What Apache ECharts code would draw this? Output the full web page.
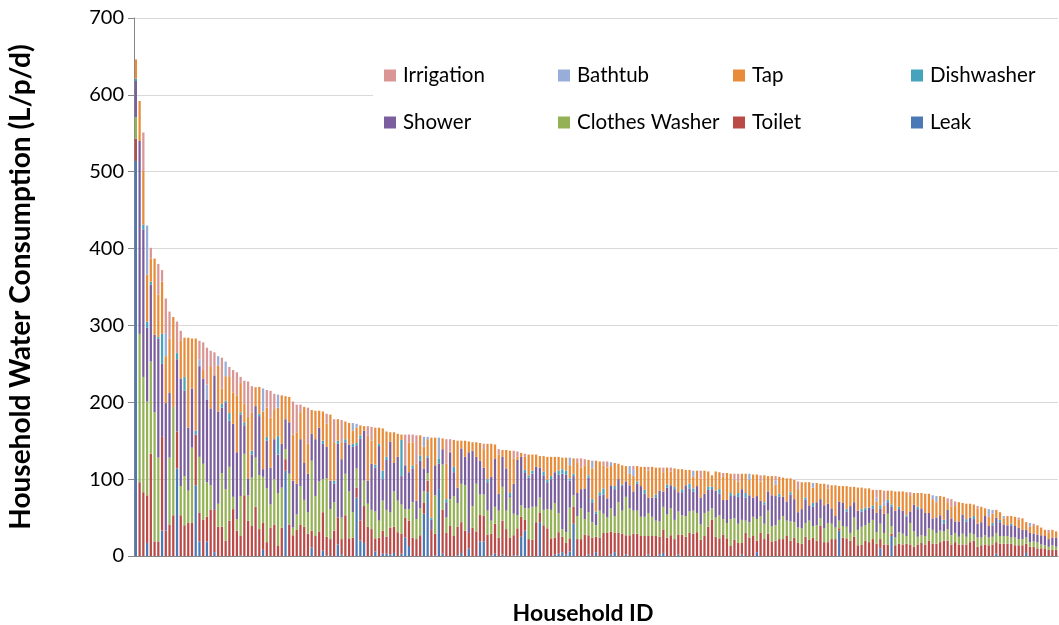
<!DOCTYPE html>
<html>
<head>
<meta charset="utf-8">
<title>Household Water Consumption</title>
<script src="https://cdn.jsdelivr.net/npm/echarts@6/dist/echarts.min.js"></script>
<style>
  html, body { margin: 0; padding: 0; background: #fff; }
  #chart { width: 1059px; height: 625px; }
</style>
</head>
<body>
<div id="chart"></div>
<script>
// end uses per household (L/p/d), households sorted by total use, highest first
const leak = [
  514,0,0,17,0,0,0,33,0,0, 0,114,0,0,0,0,92,19,0,19, 0,5,0,0,0,0,0,0,1,0,
  0,0,0,0,8,0,0,0,0,0, 111,0,0,0,0,0,0,11,0,0, 7,1,0,0,15,2,0,0,0,76,
  20,17,0,0,6,0,3,3,2,4, 0,3,24,13,0,0,0,55,83,0, 1,87,3,0,0,0,1,4,0,10,
  0,0,19,19,0,1,3,0,2,0, 0,1,1,25,33,0,0,0,44,0, 0,0,2,3,5,2,6,42,0,0,
  0,2,0,5,0,0,0,2,5,0, 0,2,0,0,0,0,0,2,0,0, 2,4,0,0,0,2,0,0,0,0,
  0,0,0,0,0,0,0,0,0,0, 0,0,2,0,0,0,5,0,0,0, 0,0,0,0,0,0,0,0,0,0,
  0,0,0,0,0,0,0,0,33,0, 0,0,0,0,0,0,0,0,0,10, 0,0,26,0,0,0,0,0,0,0,
  0,0,0,0,0,0,0,0,0,0, 0,0,0,0,0,0,0,0,0,0, 3,0,0,0,0,0,0,0,4,0,
  0,0,0,0,0,0,0
];
const toilet = [
  29,96,83,62,133,19,19,122,33,41, 53,48,53,40,43,43,66,37,47,32, 60,55,38,38,20,46,61,33,25,79,
  46,39,64,35,35,18,37,41,13,37, 15,41,27,34,41,38,29,22,26,32, 50,24,22,33,35,20,53,23,24,13,
  26,48,38,35,17,24,30,22,35,34, 31,26,26,33,24,22,27,14,15,34, 28,0,57,30,39,26,37,40,33,20,
  37,32,35,33,28,28,39,24,44,35, 24,26,35,26,14,22,21,44,12,40, 36,23,22,28,20,15,17,22,22,22,
  28,25,24,20,24,30,30,30,25,30, 29,25,27,29,29,26,26,24,26,26, 23,30,24,27,22,26,28,25,30,29,
  31,21,26,38,47,25,23,28,23,13, 21,17,15,30,24,26,15,30,22,29, 19,20,22,22,26,20,24,17,16,25,
  21,24,20,39,18,18,22,22,3,24, 23,20,25,14,15,20,18,22,16,12, 15,15,3,14,16,15,16,15,12,15,
  17,15,20,16,16,18,20,20,15,18, 15,15,15,18,20,12,14,15,14,15, 15,16,16,16,16,14,14,14,12,12,
  12,10,10,10,8,8,8
];
const clothesWasher = [
  28,193,150,122,120,168,109,0,0,87, 141,0,38,64,42,98,0,73,73,45, 32,0,30,70,67,70,16,15,52,54,
  33,63,64,70,60,70,30,59,69,52, 13,66,10,20,50,35,28,91,52,65, 43,76,39,37,0,28,54,61,33,25,
  0,33,30,25,35,22,39,35,20,46, 41,38,11,15,46,26,35,15,10,0, 50,0,59,20,35,52,31,50,59,0,
  28,62,26,28,31,17,22,35,44,24, 52,28,17,15,15,40,43,20,20,20, 25,37,45,25,10,14,40,15,30,40,
  20,30,20,15,35,25,20,30,22,40, 30,50,35,30,30,25,25,30,25,20, 20,30,30,35,25,30,25,27,28,30,
  25,20,30,20,15,25,30,20,20,35, 28,25,30,16,20,25,28,22,20,30, 20,20,25,30,20,25,20,20,20,18,
  25,15,20,10,18,25,20,15,10,15, 15,10,25,20,23,20,25,25,15,20, 15,40,10,10,15,14,10,28,20,10,
  10,11,16,18,14,15,12,15,12,12, 10,14,10,12,8,12,10,12,10,10, 12,10,10,10,8,10,8,8,8,6,
  7,8,5,4,4,6,4
];
const shower = [
  47,251,192,96,100,101,155,95,166,84, 0,94,140,111,82,77,0,118,111,107, 100,175,120,85,113,60,95,87,106,37,
  22,30,67,77,10,62,48,52,50,57, 39,67,61,40,61,48,50,35,74,70, 46,41,37,24,96,76,41,61,85,30,
  107,65,30,60,57,97,28,65,92,37, 57,37,57,48,44,24,62,30,20,13, 39,33,20,20,61,31,20,46,37,105,
  72,35,44,35,37,57,63,22,39,55, 2,39,72,63,46,40,43,52,39,45, 35,40,40,50,72,75,35,25,30,25,
  40,45,25,15,20,25,25,30,35,30, 32,20,30,25,35,40,30,20,25,30, 40,20,35,30,40,25,30,40,30,25,
  35,35,25,28,25,35,28,25,30,30, 30,35,40,30,35,25,30,20,25,25, 40,38,30,25,25,35,30,20,25,30,
  20,25,30,25,30,25,20,15,25,30, 20,35,20,25,20,20,20,15,25,20, 25,15,25,35,30,30,25,15,35,36,
  35,30,20,15,20,20,10,25,22,15, 20,25,20,20,20,18,20,25,15,15, 20,18,15,14,16,15,15,12,10,12,
  10,10,12,12,10,10,12
];
const dishwasher = [
  3,0,6,8,4,0,2,39,0,0, 0,8,0,18,0,0,5,0,0,0, 0,0,0,5,2,10,0,0,3,4,
  0,5,0,3,0,5,0,0,24,0, 0,0,0,0,0,0,0,0,0,0, 4,0,0,4,4,0,4,0,4,3,
  4,0,0,0,4,3,11,4,0,0, 0,47,0,0,4,0,7,0,2,3, 0,7,0,4,0,7,0,0,0,0,
  0,0,0,0,4,0,0,0,0,0, 4,0,0,0,4,3,4,0,0,5, 3,4,0,5,6,5,3,3,0,0,
  0,3,5,3,4,8,0,0,4,0, 2,0,0,0,3,0,5,0,0,4, 0,0,4,0,3,0,4,0,6,4,
  0,0,0,4,3,0,6,0,0,4, 0,5,0,6,0,0,0,0,3,0, 0,0,4,0,0,3,0,0,0,3,
  0,5,0,0,0,0,0,0,0,0, 3,0,0,0,3,3,0,4,0,4, 0,3,3,0,3,0,2,0,0,3,
  0,0,0,0,0,0,5,0,0,0, 0,0,3,0,4,0,0,0,0,3, 0,3,0,0,2,0,0,0,0,0,
  0,0,0,0,0,0,0
];
const tap = [
  25,52,70,61,30,99,55,68,61,71, 117,0,49,51,117,65,120,0,11,0, 55,0,60,20,32,47,41,74,38,24,
  80,50,24,35,75,38,65,39,37,63, 30,33,60,67,35,73,39,31,37,22, 38,30,86,50,28,22,23,28,17,20,
  13,6,59,30,48,21,55,33,12,40, 30,7,0,39,30,48,26,28,22,104, 36,0,14,46,1,35,61,10,21,14,
  11,19,23,24,46,43,18,51,9,24, 55,33,4,5,17,27,21,16,15,20, 30,25,20,18,15,17,17,20,40,28,
  30,20,40,66,40,30,40,25,30,20, 25,20,15,20,20,25,30,35,40,35, 30,25,22,18,24,30,26,20,18,15,
  20,25,30,20,15,25,22,30,35,25, 20,15,20,25,20,30,28,25,35,20, 25,15,22,25,30,18,25,30,35,20,
  30,20,25,20,28,20,30,40,20,22, 30,25,20,30,28,25,25,20,15,20, 10,12,18,25,20,25,30,20,15,18,
  20,25,25,25,20,25,30,10,15,20, 25,15,20,18,15,20,20,10,12,12, 10,10,8,12,10,12,10,15,10,8,
  10,12,10,8,8,10,8
];
const bathtub = [
  0,0,0,64,0,0,0,0,30,0, 0,0,0,0,0,0,0,9,0,20, 0,0,12,0,19,0,0,0,0,0,
  0,0,0,0,30,0,0,0,17,0, 0,0,0,0,0,0,0,0,0,0, 0,0,0,0,0,0,0,0,10,5,
  0,0,0,0,0,0,0,0,0,0, 0,0,0,0,0,0,0,13,3,0, 0,27,0,0,0,0,0,0,0,0,
  0,0,0,0,0,0,0,0,0,0, 0,0,0,0,0,0,0,0,0,0, 0,0,0,0,0,0,10,0,0,0,
  0,0,10,0,0,0,0,5,0,0, 0,0,10,8,0,0,0,0,0,0, 0,0,0,0,0,0,0,0,0,8,
  0,0,0,0,0,0,0,0,0,0, 0,0,0,0,8,0,0,0,0,0, 0,5,0,0,0,0,0,0,0,0,
  0,6,0,0,0,0,0,0,0,0, 0,0,0,0,0,0,0,0,5,0, 5,0,0,0,0,0,0,0,0,0,
  0,0,0,5,8,0,0,0,0,0, 0,0,0,0,0,0,0,0,10,5, 0,0,3,0,0,0,0,0,0,5,
  0,0,0,0,0,0,0
];
const irrigation = [
  0,0,50,0,14,0,40,15,45,35, 0,41,13,0,0,0,0,24,36,48, 20,30,0,40,0,13,29,30,8,30,
  46,34,1,0,0,23,35,20,0,0, 0,0,43,36,10,0,47,0,0,0, 0,13,0,30,0,29,0,0,0,0,
  0,0,12,18,0,0,0,0,0,0, 0,0,40,10,10,37,0,0,0,0, 0,0,0,32,16,0,0,0,0,0,
  0,0,0,7,0,0,0,7,0,0, 0,10,7,0,4,0,0,0,0,0, 0,0,0,0,0,0,0,0,5,12,
  8,0,0,0,0,5,8,0,0,0, 0,0,0,5,0,0,0,5,0,0, 0,6,0,5,0,0,0,0,0,0,
  0,10,0,0,0,0,0,5,0,0, 8,10,0,0,0,0,0,8,0,0, 0,6,0,0,0,0,0,10,0,0,
  0,0,0,0,0,5,0,0,0,0, 0,0,0,0,0,0,0,0,10,0, 15,0,0,0,0,0,0,5,0,0,
  0,0,0,0,0,0,0,5,10,6, 0,0,0,0,0,3,0,0,0,0, 0,0,0,0,0,0,3,0,0,0,
  3,0,0,0,4,0,0
];

const householdIds = leak.map((v, i) => String(i + 1));

// stacking order bottom -> top
const endUses = [
  { name: "Leak", data: leak, color: "#4A79B5" },
  { name: "Toilet", data: toilet, color: "#B94A47" },
  { name: "Clothes Washer", data: clothesWasher, color: "#94B255" },
  { name: "Shower", data: shower, color: "#7B5E9E" },
  { name: "Dishwasher", data: dishwasher, color: "#46A3BC" },
  { name: "Tap", data: tap, color: "#E88C3A" },
  { name: "Bathtub", data: bathtub, color: "#98AED8" },
  { name: "Irrigation", data: irrigation, color: "#D99694" }
];

// legend layout as in the original: 2 rows x 4 columns
const legendCells = [
  ["Irrigation", 384, 64], ["Bathtub", 558, 64], ["Tap", 733, 64], ["Dishwasher", 911, 64],
  ["Shower", 384, 111], ["Clothes Washer", 558, 111], ["Toilet", 733, 111], ["Leak", 911, 111]
];

const font = "Lato, 'Open Sans', sans-serif";
const chart = echarts.init(document.getElementById("chart"), null, { renderer: "canvas" });

chart.setOption({
  animation: false,
  textStyle: { fontFamily: font },
  // fixed plot area, names may sit outside it
  grid: { left: 134, right: 1, top: 18, bottom: 69, outerBoundsMode: "none" },
  legend: legendCells.map(([name, x, y]) => ({
    data: [name],
    left: x,
    top: y + 1,
    padding: 0,
    itemWidth: 12,
    itemHeight: 12,
    itemGap: 0,
    icon: "rect",
    selectedMode: false,
    textStyle: { fontFamily: font, fontSize: 20.5, color: "#000", padding: [0, 0, 0, 2] }
  })),
  // white legend box hides the gridlines behind it
  graphic: [{
    type: "rect",
    z: 1,
    shape: { x: 373, y: 50, width: 686, height: 98 },
    style: { fill: "#fff" }
  }],
  xAxis: {
    type: "category",
    data: householdIds,
    name: "Household ID",
    nameLocation: "middle",
    nameGap: 46,
    nameTextStyle: { fontFamily: font, fontSize: 23, fontWeight: "bold", color: "#000", padding: [0, 26, 0, 0] },
    axisLine: { lineStyle: { color: "#868686" } },
    axisTick: { show: false },
    axisLabel: { show: false }
  },
  yAxis: {
    type: "value",
    min: 0,
    max: 700,
    interval: 100,
    name: "Household Water Consumption (L/p/d)",
    nameLocation: "middle",
    nameGap: 99,
    nameTextStyle: { fontFamily: font, fontSize: 28, fontWeight: "bold", color: "#000" },
    axisLine: { show: true, lineStyle: { color: "#868686" } },
    axisTick: { show: true, length: 6, lineStyle: { color: "#868686" } },
    axisLabel: { fontFamily: font, fontSize: 20, color: "#000", margin: 10 },
    splitLine: { lineStyle: { color: "#d9d9d9" } }
  },
  series: endUses.map(u => ({
    name: u.name,
    type: "bar",
    stack: "total",
    data: u.data,
    barCategoryGap: "40%",
    itemStyle: { color: u.color },
    emphasis: { disabled: true }
  }))
});
</script>
</body>
</html>
